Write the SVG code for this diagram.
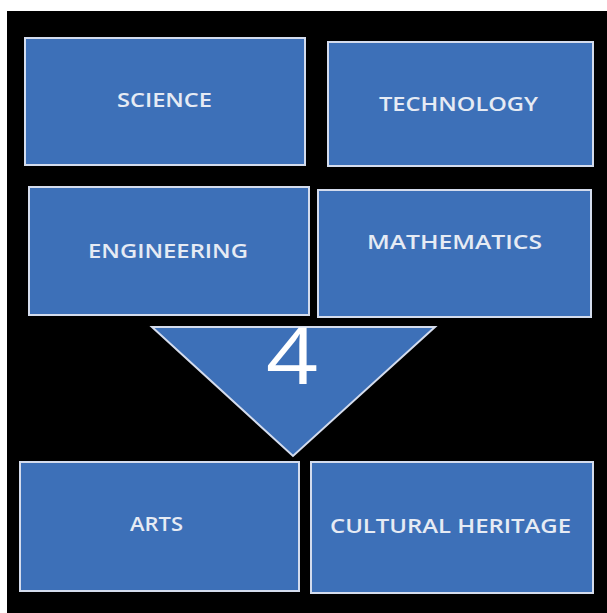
<svg xmlns="http://www.w3.org/2000/svg" width="607" height="613" viewBox="0 0 607 613">
  <style>
    .box { fill: #3d70b8; stroke: #d4dced; stroke-width: 2; }
    .lbl { font-family: "Open Sans", "Liberation Sans", sans-serif; font-size: 19px; font-weight: 600; fill: #e6ebf4; }
    .num { font-family: "Open Sans", "Liberation Sans", sans-serif; font-size: 78px; font-weight: 400; fill: #ffffff; text-anchor: middle; }
  </style>
  <rect x="0" y="0" width="607" height="613" fill="#ffffff"/>
  <rect x="7" y="11" width="600" height="602" fill="#000000"/>
  <g id="science">
    <rect class="box" x="25" y="38" width="280" height="127"/>
    <text class="lbl" x="117" y="107" textLength="95" lengthAdjust="spacingAndGlyphs">SCIENCE</text>
  </g>
  <g id="technology">
    <rect class="box" x="328" y="42" width="265" height="124"/>
    <text class="lbl" x="379" y="111" textLength="159" lengthAdjust="spacingAndGlyphs">TECHNOLOGY</text>
  </g>
  <g id="engineering">
    <rect class="box" x="29" y="187" width="280" height="128"/>
    <text class="lbl" x="88" y="258" textLength="160" lengthAdjust="spacingAndGlyphs">ENGINEERING</text>
  </g>
  <g id="mathematics">
    <rect class="box" x="318" y="190" width="273" height="127"/>
    <text class="lbl" x="367" y="249" textLength="175" lengthAdjust="spacingAndGlyphs">MATHEMATICS</text>
  </g>
  <g id="four">
    <polygon class="box" points="152,327 435,327 293,456"/>
    <text class="num" x="292" y="384" textLength="52" lengthAdjust="spacingAndGlyphs">4</text>
  </g>
  <g id="arts">
    <rect class="box" x="20" y="462" width="279" height="129"/>
    <text class="lbl" x="130" y="531" textLength="53" lengthAdjust="spacingAndGlyphs">ARTS</text>
  </g>
  <g id="cultural-heritage">
    <rect class="box" x="311" y="462" width="282" height="131"/>
    <text class="lbl" x="330" y="533" textLength="241" lengthAdjust="spacingAndGlyphs">CULTURAL HERITAGE</text>
  </g>
  <g id="connectors"/>
</svg>
